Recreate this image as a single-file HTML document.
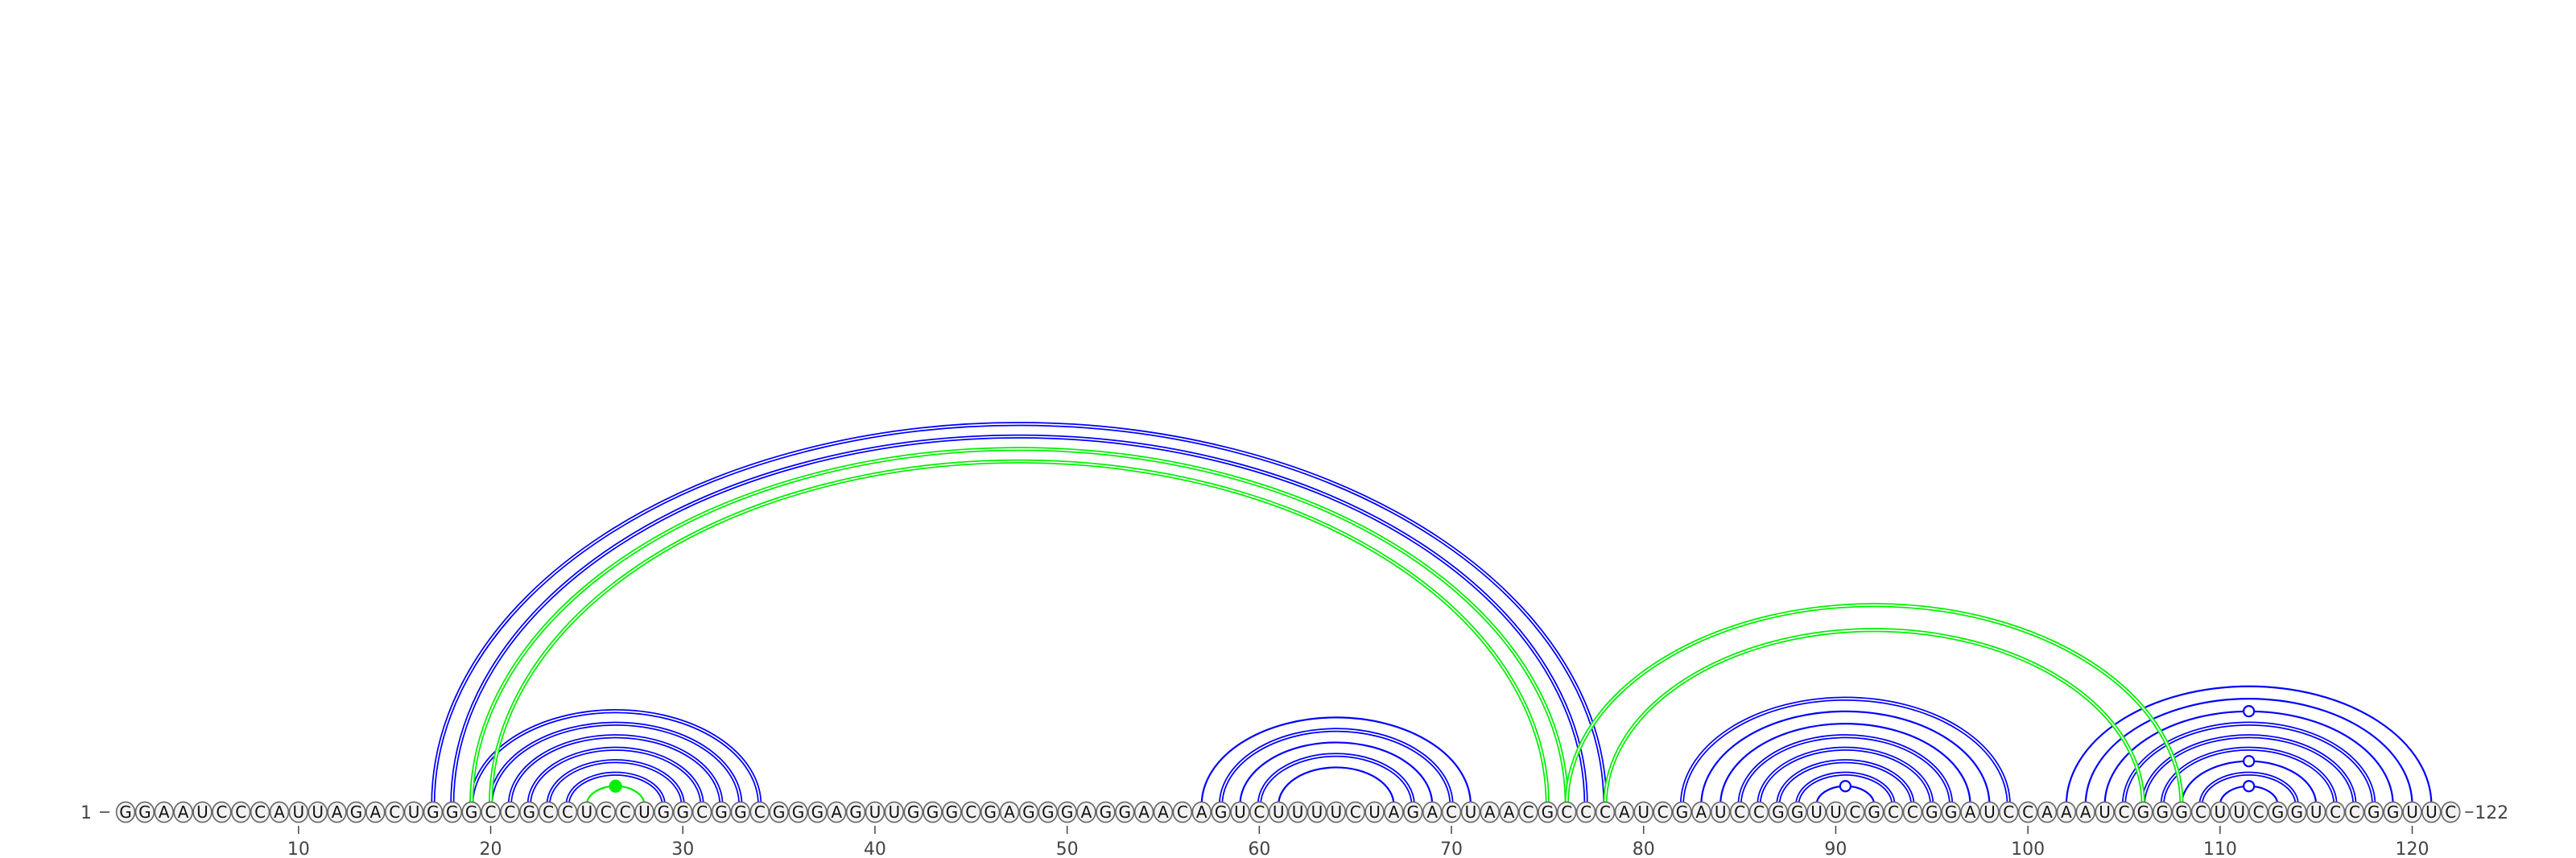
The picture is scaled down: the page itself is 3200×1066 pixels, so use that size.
<!DOCTYPE html>
<html><head><meta charset="utf-8"><style>
html,body{margin:0;padding:0;background:#fff}
svg{display:block}
text{font-family:"DejaVu Sans","Liberation Sans",sans-serif}
</style></head><body>
<svg id="chart" width="3200" height="1066" viewBox="0 0 3200 1066" xmlns="http://www.w3.org/2000/svg">
<g id="arcs"></g>
<g id="nts"></g>
<g id="axis"></g>
</svg>
<script>
const sequence = "GGAAUCCCAUUAGACUGGGCCGCCUCCUGGCGGCGGGAGUUGGGCGAGGGAGGAACAGUCUUUUCUAGACUAACGCCCAUCGAUCCGGUUCGCCGGAUCCAAAUCGGGCUUCGGUCCGGUUC";
const blueDouble = [[17,78],[18,77],[19,34],[20,33],[21,32],[22,31],[23,30],[24,29],[58,70],[60,68],[82,99],[85,96],[86,95],[87,94],[88,93],[105,118],[106,117],[107,116],[109,114]];
const blueSingle = [[57,71],[59,69],[61,67],[83,98],[84,97],[89,92],[102,121],[103,120],[104,119],[108,115],[110,113]];
const blueMarked = [[89,92],[104,119],[108,115],[110,113]];
const greenDouble = [[19,76],[20,75],[76,108],[78,106]];
const greenSingle = [[25,28]];
const greenMarked = [[25,28]];
const tickValues = [10,20,30,40,50,60,70,80,90,100,110,120];

const NS="http://www.w3.org/2000/svg";
const X0=156, DX=23.87, BASE=1009, ARCY=1000, K=0.65;
const xOf = i => X0 + (i-1)*DX;
function mk(tag, attrs, parent){const e=document.createElementNS(NS,tag);for(const k in attrs)e.setAttribute(k,attrs[k]);parent.appendChild(e);return e;}
const arcs=document.getElementById('arcs'), nts=document.getElementById('nts'), axis=document.getElementById('axis');
function arcPath(p){const a=xOf(p[0]),b=xOf(p[1]),hw=(b-a)/2;return `M${a} ${ARCY} A${hw} ${hw*K} 0 0 1 ${b} ${ARCY}`;}
function drawSet(list,color,dbl,name){
  list.forEach(p=>{
    const d=arcPath(p);
    const e=mk('path',{d:d,fill:'none',stroke:color,'stroke-width':dbl?5.2:2.2},arcs);
    
    
    if(dbl){
      const w=mk('path',{d:d,fill:'none',stroke:'#fff','stroke-width':1.7},arcs);
      
      
    }
  });
}
function drawMarks(list,color,filled,name){
  list.forEach(p=>{
    const a=xOf(p[0]),b=xOf(p[1]),hw=(b-a)/2;
    const c=mk('circle',{cx:(a+b)/2,cy:ARCY-hw*K,r:filled?7:6.5,fill:filled?color:'#fff',stroke:color,'stroke-width':2.2},arcs);
    
    
  });
}
drawSet(blueSingle,'#0000ff',false,'blue-arc');
drawSet(blueDouble,'#0000ff',true,'blue-double-arc');
drawSet(greenSingle,'#00f000',false,'green-arc');
drawSet(greenDouble,'#00f000',true,'green-double-arc');
drawMarks(blueMarked,'#0000ff',false,'blue-marker');
drawMarks(greenMarked,'#00f000',true,'green-marker');

for(let i=1;i<=sequence.length;i++){
  const x=xOf(i);
  const el=mk('ellipse',{cx:x,cy:BASE,rx:11.4,ry:12.6,fill:'#f2f2f2',stroke:'#666','stroke-width':1.6},nts);
  
  
  const t=mk('text',{x:x,y:BASE+7.2,'text-anchor':'middle','font-size':20,fill:'#111'},nts);
  t.textContent=sequence[i-1];
  
  
}
tickValues.forEach(v=>{
  const x=xOf(v);
  const l=mk('line',{x1:x,x2:x,y1:1026,y2:1036,stroke:'#444','stroke-width':1.5},axis);
  
  
  const t=mk('text',{x:x,y:1062,'text-anchor':'middle','font-size':22,fill:'#444'},axis);
  t.textContent=v;
  
  
});
const s=mk('text',{x:100,y:1017,'font-size':22,fill:'#444'},axis);
s.textContent='1';


const sl=mk('line',{x1:124,x2:136,y1:1009,y2:1009,stroke:'#444','stroke-width':1.6},axis);


const endX=xOf(sequence.length);
const el2=mk('line',{x1:endX+18,x2:endX+28,y1:1009,y2:1009,stroke:'#444','stroke-width':1.6},axis);


const e=mk('text',{x:endX+30,y:1017,'font-size':22,fill:'#444'},axis);
e.textContent=String(sequence.length);


</script>
</body></html>
